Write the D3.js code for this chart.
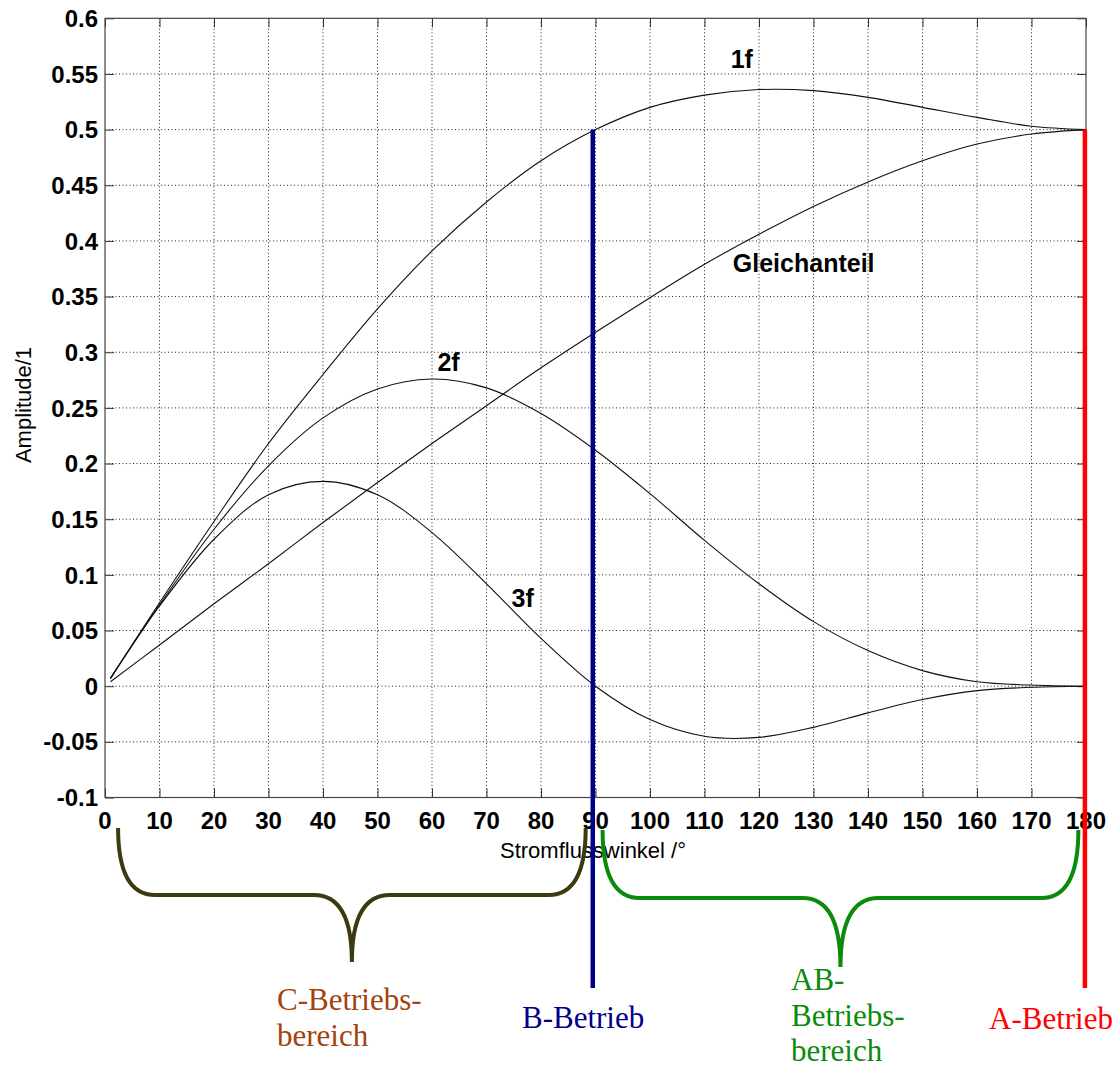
<!DOCTYPE html>
<html>
<head>
<meta charset="utf-8">
<script src="https://cdn.jsdelivr.net/npm/d3@7"></script>
<style>
  body { margin: 0; background: #fff; }
  svg { display: block; }
  .tick-label { font-family: "Liberation Sans", Arial, sans-serif; font-weight: bold; font-size: 24px; fill: #000; }
  .axis-title { font-family: "Liberation Sans", Arial, sans-serif; font-size: 22px; fill: #000; }
  .curve-label { font-family: "Liberation Sans", Arial, sans-serif; font-weight: bold; font-size: 25px; fill: #000; }
  .mode-label { font-family: "Liberation Serif", "Times New Roman", serif; font-size: 31px; }
</style>
</head>
<body>
<div id="chart"></div>
<script>
// Stromflusswinkel in Grad
const angles = [1, 10, 20, 30, 40, 50, 60, 70, 80, 90, 100, 110, 120, 130, 140, 150, 160, 170, 180];
const gleichanteil = [0.004, 0.037, 0.074, 0.110, 0.147, 0.183, 0.218, 0.252, 0.286, 0.318, 0.349, 0.379, 0.406, 0.431, 0.453, 0.472, 0.487, 0.496, 0.500];
const grund1f = [0.007, 0.075, 0.148, 0.218, 0.280, 0.339, 0.391, 0.435, 0.472, 0.500, 0.520, 0.531, 0.536, 0.535, 0.529, 0.520, 0.511, 0.503, 0.500];
const ober2f = [0.007, 0.073, 0.141, 0.198, 0.241, 0.267, 0.276, 0.268, 0.245, 0.212, 0.173, 0.131, 0.092, 0.058, 0.032, 0.014, 0.004, 0.001, 0.000];
const ober3f = [0.007, 0.072, 0.132, 0.172, 0.184, 0.172, 0.138, 0.092, 0.043, 0.000, -0.030, -0.045, -0.046, -0.037, -0.024, -0.012, -0.004, -0.001, 0.000];

const xTicks = [0, 10, 20, 30, 40, 50, 60, 70, 80, 90, 100, 110, 120, 130, 140, 150, 160, 170, 180];
const yTicks = [-0.1, -0.05, 0, 0.05, 0.1, 0.15, 0.2, 0.25, 0.3, 0.35, 0.4, 0.45, 0.5, 0.55, 0.6];
const yTickLabels = ["-0.1", "-0.05", "0", "0.05", "0.1", "0.15", "0.2", "0.25", "0.3", "0.35", "0.4", "0.45", "0.5", "0.55", "0.6"];

const series = [gleichanteil, grund1f, ober2f, ober3f];
const curveLabels = [
  { text: "1f", a: 114.8, v: 0.555 },
  { text: "Gleichanteil", a: 115.2, v: 0.372 },
  { text: "2f", a: 61.0, v: 0.283 },
  { text: "3f", a: 74.6, v: 0.071 }
];

const width = 1118, height = 1068;
const svg = d3.select("#chart").append("svg")
  .attr("width", width)
  .attr("height", height);

const x = d3.scaleLinear().domain([0, 180]).range([105, 1086]);
const y = d3.scaleLinear().domain([-0.1, 0.6]).range([797.5, 18.3]);
const x0 = x.range()[0], x1 = x.range()[1], y0 = y.range()[0], y1 = y.range()[1];

// Gitter
svg.append("g").selectAll("line")
  .data(xTicks.slice(1, -1))
  .enter().append("line")
  .attr("x1", d => x(d)).attr("x2", d => x(d))
  .attr("y1", y1).attr("y2", y0)
  .attr("stroke", "#222").attr("stroke-width", 1)
  .attr("stroke-dasharray", "1,2.5");
svg.append("g").selectAll("line")
  .data(yTicks.slice(1, -1))
  .enter().append("line")
  .attr("x1", x0).attr("x2", x1)
  .attr("y1", d => y(d)).attr("y2", d => y(d))
  .attr("stroke", "#222").attr("stroke-width", 1)
  .attr("stroke-dasharray", "1,2.5");

// Achsen mit Ticks nach innen
const tickLen = 9;
svg.append("g").attr("transform", `translate(0,${y0})`)
  .call(d3.axisBottom(x).tickValues(xTicks).tickSize(-tickLen).tickFormat(""))
  .call(g => g.select(".domain").remove());
svg.append("g").attr("transform", `translate(0,${y1})`)
  .call(d3.axisTop(x).tickValues(xTicks).tickSize(-tickLen).tickFormat(""))
  .call(g => g.select(".domain").remove());
svg.append("g").attr("transform", `translate(${x0},0)`)
  .call(d3.axisLeft(y).tickValues(yTicks).tickSize(-tickLen).tickFormat(""))
  .call(g => g.select(".domain").remove());
svg.append("g").attr("transform", `translate(${x1},0)`)
  .call(d3.axisRight(y).tickValues(yTicks).tickSize(-tickLen).tickFormat(""))
  .call(g => g.select(".domain").remove());
svg.selectAll(".tick line").attr("stroke", "#333");

svg.append("rect")
  .attr("x", x0).attr("y", y1)
  .attr("width", x1 - x0).attr("height", y0 - y1)
  .attr("fill", "none").attr("stroke", "#444").attr("stroke-width", 1.2);

// Beschriftung der Ticks
svg.append("g").selectAll("text")
  .data(xTicks)
  .enter().append("text")
  .attr("class", "tick-label")
  .attr("x", d => x(d))
  .attr("y", 829)
  .attr("text-anchor", "middle")
  .text(d => d);
svg.append("g").selectAll("text")
  .data(yTicks)
  .enter().append("text")
  .attr("class", "tick-label")
  .attr("x", x0 - 7)
  .attr("y", d => y(d))
  .attr("dy", "0.36em")
  .attr("text-anchor", "end")
  .text((d, i) => yTickLabels[i]);

svg.append("text").attr("class", "axis-title")
  .attr("x", 593).attr("y", 858)
  .attr("text-anchor", "middle")
  .text("Stromflusswinkel /°");
svg.append("text").attr("class", "axis-title")
  .attr("transform", "translate(31,405) rotate(-90)")
  .attr("text-anchor", "middle")
  .text("Amplitude/1");

// Kurven
const line = d3.line()
  .x((d, i) => x(angles[i]))
  .y(d => y(d))
  .curve(d3.curveCatmullRom.alpha(0.5));
svg.append("g").selectAll("path")
  .data(series)
  .enter().append("path")
  .attr("d", d => line(d))
  .attr("fill", "none")
  .attr("stroke", "#111")
  .attr("stroke-width", 1.1);

svg.append("g").selectAll("text")
  .data(curveLabels)
  .enter().append("text")
  .attr("class", "curve-label")
  .attr("x", d => x(d.a))
  .attr("y", d => y(d.v))
  .text(d => d.text);

// Betriebsarten
const markers = [
  { a: 89.5, color: "#00008b" },
  { a: 179.8, color: "#ff0000" }
];
svg.append("g").selectAll("line")
  .data(markers)
  .enter().append("line")
  .attr("x1", d => x(d.a)).attr("x2", d => x(d.a))
  .attr("y1", y(0.5)).attr("y2", 988)
  .attr("stroke", d => d.color)
  .attr("stroke-width", 4.5);

const braces = [
  { from: 2.4, to: 88.2, top: 828, flat: 895, tip: 962, color: "#3d3a0f" },
  { from: 91.3, to: 178.6, top: 830, flat: 898, tip: 967, color: "#0b8a0b" }
];
function bracePath(b) {
  const a = x(b.from), e = x(b.to), m = (a + e) / 2;
  const r = 37, s = 38;
  return `M${a},${b.top} Q${a},${b.flat} ${a + r},${b.flat} L${m - s},${b.flat} ` +
    `Q${m},${b.flat} ${m},${b.tip} Q${m},${b.flat} ${m + s},${b.flat} ` +
    `L${e - r},${b.flat} Q${e},${b.flat} ${e},${b.top}`;
}
svg.append("g").selectAll("path")
  .data(braces)
  .enter().append("path")
  .attr("d", bracePath)
  .attr("fill", "none")
  .attr("stroke", d => d.color)
  .attr("stroke-width", 4);

const modeLabels = [
  { lines: ["C-Betriebs-", "bereich"], x: 277, y: 1010, color: "#a2420f" },
  { lines: ["B-Betrieb"], x: 522, y: 1028, color: "#00008b" },
  { lines: ["AB-", "Betriebs-", "bereich"], x: 791, y: 990, color: "#0b8a0b" },
  { lines: ["A-Betrieb"], x: 989, y: 1029, color: "#ff0000" }
];
modeLabels.forEach(l => {
  const t = svg.append("text").attr("class", "mode-label")
    .attr("fill", l.color);
  l.lines.forEach((s, i) => {
    t.append("tspan").attr("x", l.x).attr("y", l.y + i * 35.5).text(s);
  });
});
</script>
</body>
</html>
